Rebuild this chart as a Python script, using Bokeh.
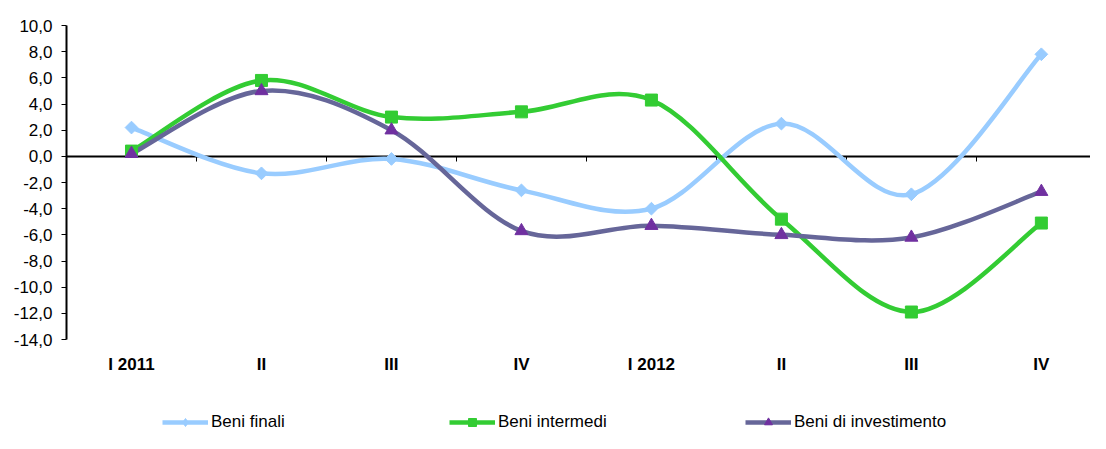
import numpy as np
from bokeh.plotting import figure
from bokeh.layouts import column
from bokeh.models import (Range1d, FixedTicker, LinearAxis, Legend, LegendItem, ColumnDataSource)
from bokeh.embed import file_html
from bokeh.resources import INLINE

categories = ["I 2011", "II", "III", "IV", "I 2012", "II", "III", "IV"]
beni_finali = [2.2, -1.3, -0.2, -2.6, -4.0, 2.5, -2.9, 7.8]
beni_intermedi = [0.4, 5.8, 3.0, 3.4, 4.3, -4.8, -11.9, -5.1]
beni_investimento = [0.2, 5.0, 2.0, -5.7, -5.3, -6.0, -6.2, -2.7]
y_ticks = [-14, -12, -10, -8, -6, -4, -2, 0, 2, 4, 6, 8, 10]
y_tick_labels = ["-14,0", "-12,0", "-10,0", "-8,0", "-6,0", "-4,0", "-2,0",
                 "0,0", "2,0", "4,0", "6,0", "8,0", "10,0"]

x_pos = [i + 0.5 for i in range(len(categories))]
boundaries = [i for i in range(1, len(categories))]

p = figure(width=1090, height=399, x_range=Range1d(0, 7.878), y_range=Range1d(-14, 10),
           output_backend="svg", toolbar_location=None,
           min_border_left=66, min_border_top=25, min_border_bottom=60, min_border_right=0)
p.outline_line_color = None
p.xgrid.visible = False
p.ygrid.visible = False
p.background_fill_color = "white"
p.border_fill_color = "white"

# category label axis (bottom)
xa = p.xaxis[0]
xa.ticker = FixedTicker(ticks=x_pos)
xa.major_label_overrides = {x: c for x, c in zip(x_pos, categories)}
xa.axis_line_color = None
xa.major_tick_line_color = None
xa.minor_tick_line_color = None
xa.major_tick_out = 0
xa.major_tick_in = 0
xa.major_label_standoff = 15
xa.major_label_text_font = "Liberation Sans"
xa.major_label_text_font_style = "bold"
xa.major_label_text_font_size = "17px"
xa.major_label_text_color = "black"

# zero line axis with boundary ticks
za = LinearAxis(fixed_location=0, ticker=FixedTicker(ticks=boundaries))
za.axis_line_color = "black"
za.axis_line_width = 2
za.major_tick_line_color = "black"
za.major_tick_out = 5
za.major_tick_in = 0
za.minor_tick_line_color = None
za.major_label_text_font_size = "0px"
za.major_label_text_alpha = 0
za.level = "underlay"
p.add_layout(za, "below")

# y axis
ya = p.yaxis[0]
ya.ticker = FixedTicker(ticks=y_ticks)
ya.major_label_overrides = {t: l for t, l in zip(y_ticks, y_tick_labels)}
ya.axis_line_color = "black"
ya.axis_line_width = 2
ya.major_tick_line_color = "black"
ya.major_tick_out = 5
ya.major_tick_in = 0
ya.minor_tick_line_color = None
ya.major_label_standoff = 9
ya.major_label_text_font = "Liberation Sans"
ya.major_label_text_font_size = "17px"
ya.major_label_text_color = "black"


def smooth_source(xs, ys):
    pts = np.column_stack([xs, ys]).astype(float)
    n = len(pts)
    d = dict(x0=[], y0=[], x1=[], y1=[], cx0=[], cy0=[], cx1=[], cy1=[])
    for i in range(n - 1):
        p0 = pts[max(i - 1, 0)]
        p1 = pts[i]
        p2 = pts[i + 1]
        p3 = pts[min(i + 2, n - 1)]
        c0 = p1 + (p2 - p0) / 6.0
        c1 = p2 - (p3 - p1) / 6.0
        d["x0"].append(p1[0]); d["y0"].append(p1[1])
        d["x1"].append(p2[0]); d["y1"].append(p2[1])
        d["cx0"].append(c0[0]); d["cy0"].append(c0[1])
        d["cx1"].append(c1[0]); d["cy1"].append(c1[1])
    return ColumnDataSource(d)


series = [
    ("Beni finali", beni_finali, "#99CCFF", "#99CCFF",
     dict(marker="square", size=9, angle=np.pi / 4), dict(marker="diamond", size=15)),
    ("Beni intermedi", beni_intermedi, "#33CC33", "#33CC33",
     dict(marker="square", size=12), dict(marker="square", size=12)),
    ("Beni di investimento", beni_investimento, "#666699", "#7030A0",
     dict(marker="triangle", size=13), dict(marker="triangle", size=13)),
]

for name, vals, lc, mc, mk, lmk in series:
    src = smooth_source(x_pos, vals)
    p.bezier(x0="x0", y0="y0", x1="x1", y1="y1", cx0="cx0", cy0="cy0", cx1="cx1", cy1="cy1",
             source=src, line_color=lc, line_width=4.5)

for name, vals, lc, mc, mk, lmk in series:
    p.scatter(x=x_pos, y=vals, fill_color=mc, line_color=mc, line_width=1, **mk)

# legend strip below the chart (its renderers hold the series but lie outside its visible range)
lf = figure(width=1090, height=34, x_range=Range1d(0, 1), y_range=Range1d(100, 101),
            output_backend="svg", toolbar_location=None,
            min_border_left=0, min_border_right=0, min_border_top=0, min_border_bottom=0)
lf.xaxis.visible = False
lf.yaxis.visible = False
lf.xgrid.visible = False
lf.ygrid.visible = False
lf.outline_line_color = None

legend_x = [96, 383, 679]
for (name, vals, lc, mc, mk, lmk), lx in zip(series, legend_x):
    lr = lf.line(x=x_pos, y=vals, line_color=lc, line_width=4.5)
    mr = lf.scatter(x=x_pos, y=vals, fill_color=mc, line_color=mc, line_width=1, **lmk)
    lg = Legend(items=[LegendItem(label=name, renderers=[lr, mr])],
                location=(lx, 1), orientation="horizontal",
                glyph_width=46, glyph_height=20, label_height=20, label_standoff=3,
                padding=0, margin=0, spacing=0,
                border_line_color=None, background_fill_alpha=0,
                label_text_font="Liberation Sans", label_text_font_size="17px",
                label_text_color="black")
    lf.add_layout(lg, "center")

layout = column(p, lf, spacing=0)
open("out.html", "w").write(file_html(layout, INLINE))
